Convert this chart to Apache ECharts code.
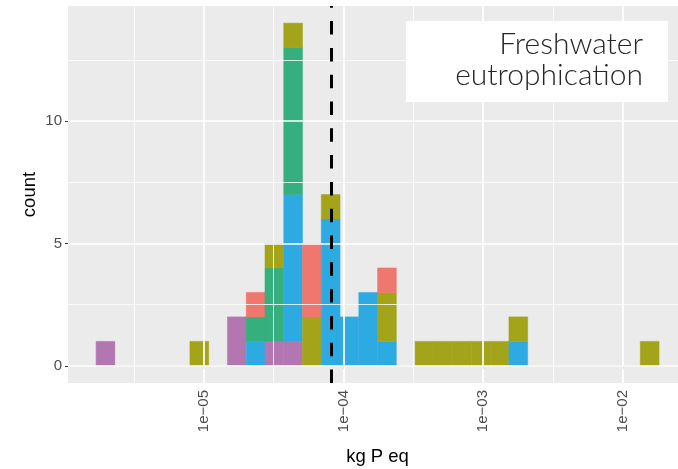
<!DOCTYPE html>
<html>
<head>
<meta charset="utf-8">
<script src="https://cdn.jsdelivr.net/npm/echarts@6/dist/echarts.min.js"></script>
<style>
  html, body { margin: 0; padding: 0; background: #fff; overflow: hidden; }
  #chart { width: 700px; height: 469px; }
</style>
</head>
<body>
<div id="chart"></div>
<script>
// histogram bins, in log10(kg P eq)
const binLo = -5.770
const binWidth = 0.1343
// counts per bin (30 bins), one array per group, stacked bottom -> top
const purple = [1, 0, 0, 0, 0, 0, 0, 2, 0, 1, 1, 0, 0, 0, 0, 0, 0, 0, 0, 0, 0, 0, 0, 0, 0, 0, 0, 0, 0, 0]
const blue = [0, 0, 0, 0, 0, 0, 0, 0, 1, 0, 6, 0, 6, 2, 3, 1, 0, 0, 0, 0, 0, 0, 1, 0, 0, 0, 0, 0, 0, 0]
const green = [0, 0, 0, 0, 0, 0, 0, 0, 1, 3, 6, 0, 0, 0, 0, 0, 0, 0, 0, 0, 0, 0, 0, 0, 0, 0, 0, 0, 0, 0]
const olive = [0, 0, 0, 0, 0, 1, 0, 0, 0, 1, 1, 2, 1, 0, 0, 2, 0, 1, 1, 1, 1, 1, 1, 0, 0, 0, 0, 0, 0, 1]
const red = [0, 0, 0, 0, 0, 0, 0, 0, 1, 0, 0, 3, 0, 0, 0, 1, 0, 0, 0, 0, 0, 0, 0, 0, 0, 0, 0, 0, 0, 0]
const groups = [purple, blue, green, olive, red]
const groupColors = ['#b277b1', '#2eaae2', '#35af7d', '#a3a419', '#f0776f']

// dashed reference line, log10 value
const meanLine = -4.095

// axis ticks
const xTicks = [-5, -4, -3, -2]
const xTickLabels = ['1e\u221205', '1e\u221204', '1e\u221203', '1e\u221202']
const xMinor = [-5.5, -4.5, -3.5, -2.5]
const yTicks = [0, 5, 10]
const yMinor = [2.5, 7.5, 12.5]

// stacked segments [xLo, xHi, y0, y1, groupIndex]
const segments = []
const emptyBins = []
for (let i = 0; i < purple.length; i++) {
  const lo = binLo + i * binWidth
  const hi = lo + binWidth
  let base = 0
  groups.forEach((g, k) => {
    if (g[i] > 0) {
      segments.push([lo, hi, base, base + g[i], k])
      base += g[i]
    }
  })
  if (base === 0) emptyBins.push([lo, hi, 0, 0, -1])
}

const myChart = echarts.init(document.getElementById('chart'))

const gridLine = (axis, v, width) => ({
  [axis]: v,
  lineStyle: { color: '#ffffff', width: width, type: 'solid' }
})

const option = {
  animation: false,
  grid: {
    left: 68, top: 6, width: 619, height: 377,
    outerBoundsMode: 'none',
    backgroundColor: '#ebebeb', show: true, borderWidth: 0
  },
  xAxis: {
    type: 'value',
    min: -5.971,
    max: -1.541,
    name: 'kg P eq',
    nameLocation: 'middle',
    nameGap: 64,
    nameMoveOverlap: false,
    nameTextStyle: { color: '#000', fontSize: 18.5, fontFamily: 'Liberation Sans' },
    axisLine: { show: false },
    splitLine: { show: false },
    axisTick: { show: true, customValues: xTicks, length: 3, lineStyle: { color: '#333', width: 1 } },
    axisLabel: {
      customValues: xTicks,
      rotate: 90,
      margin: 7,
      color: '#4d4d4d',
      fontSize: 15,
      fontFamily: 'Liberation Sans',
      formatter: v => xTickLabels[xTicks.indexOf(v)]
    }
  },
  yAxis: {
    type: 'value',
    min: -0.7,
    max: 14.7,
    name: 'count',
    nameLocation: 'middle',
    nameGap: 29,
    nameMoveOverlap: false,
    nameTextStyle: { color: '#000', fontSize: 18.5, fontFamily: 'Liberation Sans' },
    axisLine: { show: false },
    splitLine: { show: false },
    axisTick: { show: true, customValues: yTicks, length: 3, lineStyle: { color: '#333', width: 1 } },
    axisLabel: { customValues: yTicks, margin: 6, color: '#4d4d4d', fontSize: 15, fontFamily: 'Liberation Sans' }
  },
  graphic: [
    { type: 'rect', shape: { x: 406, y: 21, width: 262, height: 81 }, style: { fill: '#ffffff' }, z: 100 },
    {
      type: 'text',
      x: 643,
      y: 29,
      z: 101,
      style: {
        text: 'Freshwater\neutrophication',
        align: 'right',
        verticalAlign: 'top',
        fontSize: 30,
        lineHeight: 31,
        fontWeight: 300,
        fontFamily: 'Lato',
        fill: '#262626'
      }
    }
  ],
  series: [
    {
      // panel grid lines
      type: 'line',
      data: [],
      silent: true,
      z: 1,
      markLine: {
        silent: true,
        symbol: 'none',
        label: { show: false },
        animation: false,
        data: [
          ...xMinor.map(v => gridLine('xAxis', v, 0.8)),
          ...yMinor.map(v => gridLine('yAxis', v, 0.8)),
          ...xTicks.map(v => gridLine('xAxis', v, 1.7)),
          ...yTicks.map(v => gridLine('yAxis', v, 1.7))
        ]
      }
    },
    {
      type: 'custom',
      z: 2,
      clip: true,
      encode: { x: [0, 1], y: [2, 3] },
      data: segments.concat(emptyBins),
      renderItem: (params, api) => {
        const p0 = api.coord([api.value(0), api.value(3)])
        const p1 = api.coord([api.value(1), api.value(2)])
        const k = api.value(4)
        if (k < 0) {
          return {
            type: 'line',
            shape: { x1: p0[0], y1: p1[1], x2: p1[0], y2: p1[1] },
            style: { stroke: '#d6c6a4', lineWidth: 1 }
          }
        }
        return {
          type: 'rect',
          shape: { x: p0[0], y: p0[1], width: p1[0] - p0[0], height: p1[1] - p0[1] },
          style: { fill: groupColors[k], stroke: groupColors[k], lineWidth: 0.5 }
        }
      }
    },
    {
      type: 'line',
      data: [],
      z: 5,
      markLine: {
        silent: true,
        symbol: 'none',
        label: { show: false },
        animation: false,
        data: [{ xAxis: meanLine, lineStyle: { color: '#000', width: 3, type: [13.5, 13.3] } }]
      }
    }
  ]
}
myChart.setOption(option)
</script>
</body>
</html>
